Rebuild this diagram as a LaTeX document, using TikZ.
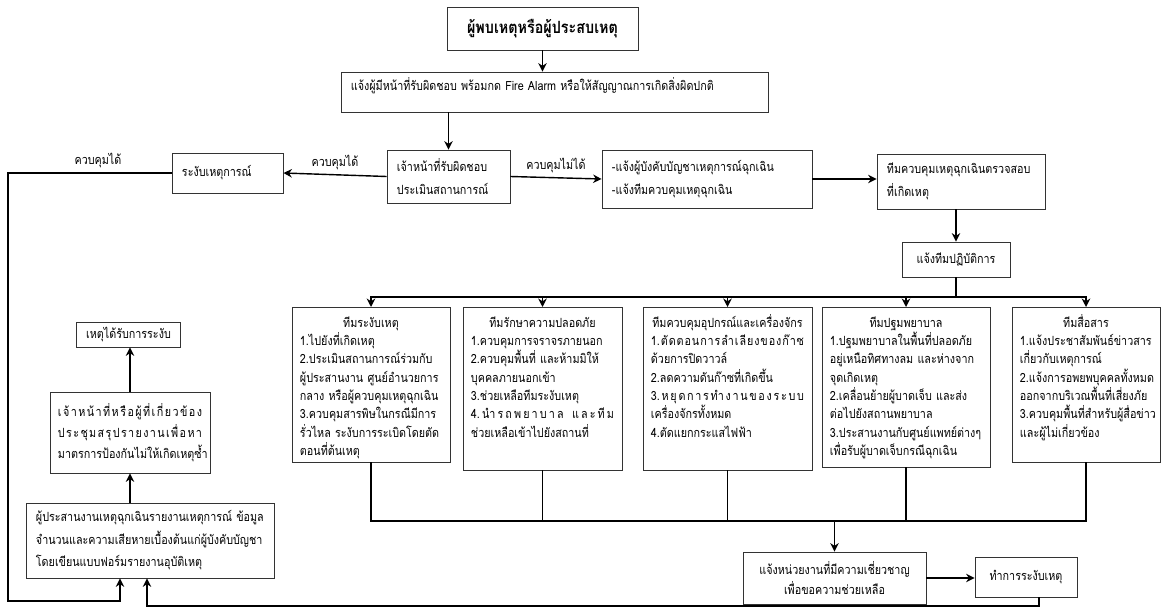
\documentclass[tikz,border=0pt]{standalone}
\usepackage{fontspec}
\setmainfont{Loma}[Script=Thai, FakeStretch=0.85]
\usepackage{tikz}
\usetikzlibrary{arrows.meta}
\usetikzlibrary{positioning}

% a line spread over the whole text width, clusters split by |
\def\sprdo#1|#2\stopspread{#1\ifx\relax#2\relax\else\hfill\sprdo#2\stopspread\fi}
\newcommand\spreadline[1]{\leavevmode\hbox to\linewidth{\sprdo#1|\stopspread}}

\tikzset{
  box/.style={draw=black!80, line width=0.6pt, inner xsep=0.25cm, inner ysep=0.1cm,
    font=\fontsize{9}{16}\selectfont},
  teambox/.style={box, anchor=north, align=left, inner xsep=0.2cm, inner ysep=0.15cm,
    text height=0.35cm, font=\fontsize{9}{13}\selectfont},
  arrow/.style={line width=1pt, -{Stealth[length=6pt, width=6pt]}},
  wire/.style={line width=1pt, line cap=rect}
}

\begin{document}
\begin{tikzpicture}[x=0.025cm, y=-0.025cm, font=\fontsize{9}{13}\selectfont]
  \useasboundingbox (0,0) rectangle (1167,610);

  % first steps
  \node[box, minimum width=4.775cm, minimum height=1.075cm,
    font=\fontsize{12}{14}\selectfont\bfseries] (finder) at (542.5,28.5) {ผู้พบเหตุหรือผู้ประสบเหตุ};
  \node[box, text width=10.175cm, text height=0.3cm, text depth=0.35cm, minimum height=1cm,
    align=left] (notify) at (554.5,92)
    {\mbox{แจ้งผู้มีหน้าที่รับผิดชอบ พร้อมกด Fire Alarm หรือให้สัญญาณการเกิดสิ่งผิดปกติ}};
  \node[box, text width=2.575cm, minimum height=1.325cm, align=left] (assess) at (448.5,176.5)
    {เจ้าหน้าที่รับผิดชอบ\\ประเมินสถานการณ์};
  \node[box, text width=2.275cm, minimum height=1cm, align=left] (suppress) at (227.5,173)
    {ระงับเหตุการณ์};
  \node[box, text width=4.75cm, minimum height=1.45cm, align=left] (command) at (707,179)
    {\mbox{-แจ้งผู้บังคับบัญชาเหตุการณ์ฉุกเฉิน}\\\mbox{-แจ้งทีมควบคุมเหตุฉุกเฉิน}};
  \node[box, text width=3.7cm, minimum height=1.375cm, align=left] (check) at (961,181.5)
    {ทีมควบคุมเหตุฉุกเฉินตรวจสอบ\\ที่เกิดเหตุ};
  \node[box, minimum width=2.7cm, minimum height=0.875cm] (ops) at (956,259.5) {แจ้งทีมปฏิบัติการ};

  \draw[arrow] (finder.south) -- (finder.south |- notify.north);
  \draw[arrow] (assess.north |- notify.south) -- (assess.north);
  \draw[arrow] (assess.west) -- node[above] {ควบคุมได้} (suppress.east);
  \draw[arrow] (assess.east) -- node[above] {ควบคุมไม่ได้} (command.west);
  \draw[arrow] (command.east) -- (check.west |- command.east);
  \draw[arrow] (ops.north |- check.south) -- (ops.north);

  % teams
  \node[teambox, text width=3.55cm, text depth=3.225cm] (t1) at (371,307)
    {\makebox[\linewidth]{ทีมระงับเหตุ}\\
     1.ไปยังที่เกิดเหตุ\\
     2.ประเมินสถานการณ์ร่วมกับ\\
     ผู้ประสานงาน~ศูนย์อำนวยการ\\
     กลาง~หรือผู้ควบคุมเหตุฉุกเฉิน\\
     3.ควบคุมสารพิษในกรณีมีการ\\
     รั่วไหล~ระงับการระเบิดโดยตัด\\
     ตอนที่ต้นเหตุ};
  \node[teambox, text width=3.575cm, text depth=3.425cm] (t2) at (542.5,307)
    {\makebox[\linewidth]{ทีมรักษาความปลอดภัย}\\
     1.ควบคุมการจราจรภายนอก\\
     2.ควบคุมพื้นที่~และห้ามมิให้\\
     บุคคลภายนอกเข้า\\
     3.ช่วยเหลือทีมระงับเหตุ\\
     \spreadline{4.|นำ|ร|ถ|พ|ย|า|บ|า|ล|~|แ|ล|ะ|ที|ม}\\
     ช่วยเหลือเข้าไปยังสถานที่};
  \node[teambox, text width=3.825cm, text depth=3.425cm] (t3) at (727.5,307)
    {\makebox[\linewidth]{ทีมควบคุมอุปกรณ์และเครื่องจักร}\\
     \spreadline{1.|ตั|ด|ต|อ|น|ก|า|ร|ลำ|เ|ลี|ย|ง|ข|อ|ง|ก๊|า|ซ}\\
     ด้วยการปิดวาวล์\\
     2.ลดความดันก๊าซที่เกิดขึ้น\\
     \spreadline{3.|ห|ยุ|ด|ก|า|ร|ทำ|ง|า|น|ข|อ|ง|ร|ะ|บ|บ}\\
     เครื่องจักรทั้งหมด\\
     4.ตัดแยกกระแสไฟฟ้า};
  \node[teambox, text width=3.8cm, text depth=3.35cm] (t4) at (906,307)
    {\makebox[\linewidth]{ทีมปฐมพยาบาล}\\
     1.ปฐมพยาบาลในพื้นที่ปลอดภัย\\
     อยู่เหนือทิศทางลม~และห่างจาก\\
     จุดเกิดเหตุ\\
     2.เคลื่อนย้ายผู้บาดเจ็บ~และส่ง\\
     ต่อไปยังสถานพยาบาล\\
     3.ประสานงานกับศูนย์แพทย์ต่างๆ\\
     เพื่อรับผู้บาดเจ็บกรณีฉุกเฉิน};
  \node[teambox, text width=3.3cm, text depth=3.225cm] (t5) at (1086,307)
    {\makebox[\linewidth]{ทีมสื่อสาร}\\
     1.แจ้งประชาสัมพันธ์ข่าวสาร\\
     เกี่ยวกับเหตุการณ์\\
     2.แจ้งการอพยพบุคคลทั้งหมด\\
     ออกจากบริเวณพื้นที่เสี่ยงภัย\\
     3.ควบคุมพื้นที่สำหรับผู้สื่อข่าว\\
     และผู้ไม่เกี่ยวข้อง};

  \coordinate (bus) at (0,297);
  \draw[wire] (ops.south) -- (ops.south |- bus);
  \draw[wire] (t1.north |- bus) -- (t5.north |- bus);
  \foreach \t in {t1,t2,t3,t4,t5}
    \draw[arrow] (\t.north |- bus) -- (\t.north);

  % after the teams
  \node[box, minimum width=4.575cm, minimum height=1.3cm, align=center,
    font=\fontsize{9}{14}\selectfont] (expert) at (834.5,578)
    {แจ้งหน่วยงานที่มีความเชี่ยวชาญ\\เพื่อขอความช่วยเหลือ};
  \node[box, minimum width=2.55cm, minimum height=1cm] (quell) at (1026,577) {ทำการระงับเหตุ};

  \coordinate (collect) at (0,521);
  \foreach \t in {t1,t2,t3,t4,t5}
    \draw[wire] (\t.south) -- (\t.south |- collect);
  \draw[wire] (t1.south |- collect) -- (t5.south |- collect);
  \draw[arrow] (expert.north |- collect) -- (expert.north);
  \draw[arrow] (expert.east) -- (quell.west |- expert.east);

  % left column
  \node[box, minimum width=2.575cm, minimum height=0.625cm] (resolved) at (128.5,334.5) {เหตุได้รับการระงับ};
  \node[box, text width=3.6cm, inner xsep=0.2cm, minimum height=2.025cm, align=left,
    font=\fontsize{9}{15}\selectfont] (meeting) at (130,432.5)
    {\spreadline{เ|จ้|า|ห|น้|า|ที่|ห|รื|อ|ผู้|ที่|เ|กี่|ย|ว|ข้|อ|ง}\\
     \spreadline{ป|ร|ะ|ชุ|ม|ส|รุ|ป|ร|า|ย|ง|า|น|เ|พื่|อ|ห|า}\\
     มาตรการป้องกันไม่ให้เกิดเหตุซ้ำ};
  \node[box, text width=5.7cm, minimum height=1.875cm, align=left] (report) at (150,540.5)
    {ผู้ประสานงานเหตุฉุกเฉินรายงานเหตุการณ์~ข้อมูล\\
     จำนวนและความเสียหายเบื้องต้นแก่ผู้บังคับบัญชา\\
     โดยเขียนแบบฟอร์มรายงานอุบัติเหตุ};

  \draw[arrow] (meeting.north) -- (meeting.north |- resolved.south);
  \draw[arrow] (report.north -| meeting.south) -- (meeting.south);

  % back to the report
  \coordinate (leftrail) at (8,601);
  \draw[arrow] (suppress.west) -- node[above, pos=0.45] {ควบคุมได้} (suppress.west -| leftrail)
    -- (leftrail) -| ([xshift=-0.75cm]report.south);
  \coordinate (ret) at ([xshift=0.325cm]quell.south);
  \coordinate (bottomrail) at (0,606);
  \draw[arrow] (ret) -- (ret |- bottomrail) -| ([xshift=-0.075cm]report.south);
\end{tikzpicture}
\end{document}
